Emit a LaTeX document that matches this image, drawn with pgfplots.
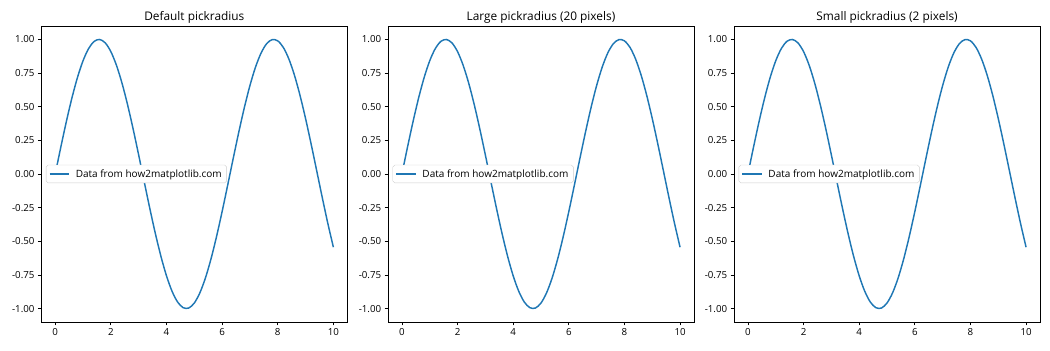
\documentclass[border=0pt]{standalone}
\usepackage{fontspec}
\setmainfont{Open Sans}
\usepackage{pgfplots}
\pgfplotsset{compat=1.18}
\definecolor{mplblue}{HTML}{1F77B4}
\pgfplotstableread{
x y
0.0 0.0000
0.2 0.1987
0.4 0.3894
0.6 0.5646
0.8 0.7174
1.0 0.8415
1.2 0.9320
1.4 0.9854
1.6 0.9996
1.8 0.9738
2.0 0.9093
2.2 0.8085
2.4 0.6755
2.6 0.5155
2.8 0.3350
3.0 0.1411
3.2 -0.0584
3.4 -0.2555
3.6 -0.4425
3.8 -0.6119
4.0 -0.7568
4.2 -0.8716
4.4 -0.9516
4.6 -0.9937
4.8 -0.9962
5.0 -0.9589
5.2 -0.8835
5.4 -0.7728
5.6 -0.6313
5.8 -0.4646
6.0 -0.2794
6.2 -0.0831
6.4 0.1165
6.6 0.3115
6.8 0.4941
7.0 0.6570
7.2 0.7937
7.4 0.8987
7.6 0.9679
7.8 0.9985
8.0 0.9894
8.2 0.9407
8.4 0.8546
8.6 0.7344
8.8 0.5849
9.0 0.4121
9.2 0.2229
9.4 0.0248
9.6 -0.1743
9.8 -0.3665
10.0 -0.5440
}\sinedata
\pgfplotsset{
  panel/.style={
    scale only axis,
    width=314.7pt, height=304.5pt,
    anchor=south west,
    xmin=-0.5, xmax=10.5,
    ymin=-1.1, ymax=1.1,
    xtick={0,2,4,6,8,10},
    ytick={-1,-0.75,-0.5,-0.25,0,0.25,0.5,0.75,1},
    yticklabel style={/pgf/number format/.cd,fixed,fixed zerofill,precision=2},
    /pgf/number format/assume math mode=true,
    tick label style={font=\fontsize{10}{12}\selectfont},
    xtick pos=bottom, ytick pos=left,
    tick align=outside,
    major tick length=3.5pt,
    every tick/.style={black, line width=0.8pt},
    axis line style={line width=0.8pt},
    title style={font=\fontsize{12.2}{14}\selectfont, anchor=base, inner sep=0pt},
    legend style={at={(0.015,0.5)}, anchor=west, font=\fontsize{10.3}{12}\selectfont,
      draw=black!20, rounded corners=2pt, inner xsep=3pt, inner ysep=2.5pt},
    legend cell align=left,
    legend image code/.code={\draw[mplblue, line width=1.5pt] (0pt,0pt) -- (20pt,0pt); \path (24pt,0pt);},
  },
}
\begin{document}
\begin{tikzpicture}[x=1pt,y=1pt]
\useasboundingbox (0,0) rectangle (1080,360);
\begin{axis}[panel, at={(42.5pt,28.8pt)}, title={Default pickradius}]
\addplot[mplblue, line width=1.5pt, smooth] table[x=x,y=y] {\sinedata};
\addlegendentry{Data from how2matplotlib.com}
\end{axis}
\begin{axis}[panel, at={(399.1pt,28.8pt)}, title={Large pickradius (20 pixels)}]
\addplot[mplblue, line width=1.5pt, smooth] table[x=x,y=y] {\sinedata};
\addlegendentry{Data from how2matplotlib.com}
\end{axis}
\begin{axis}[panel, at={(755.0pt,28.8pt)}, title={Small pickradius (2 pixels)}]
\addplot[mplblue, line width=1.5pt, smooth] table[x=x,y=y] {\sinedata};
\addlegendentry{Data from how2matplotlib.com}
\end{axis}
\end{tikzpicture}
\end{document}
